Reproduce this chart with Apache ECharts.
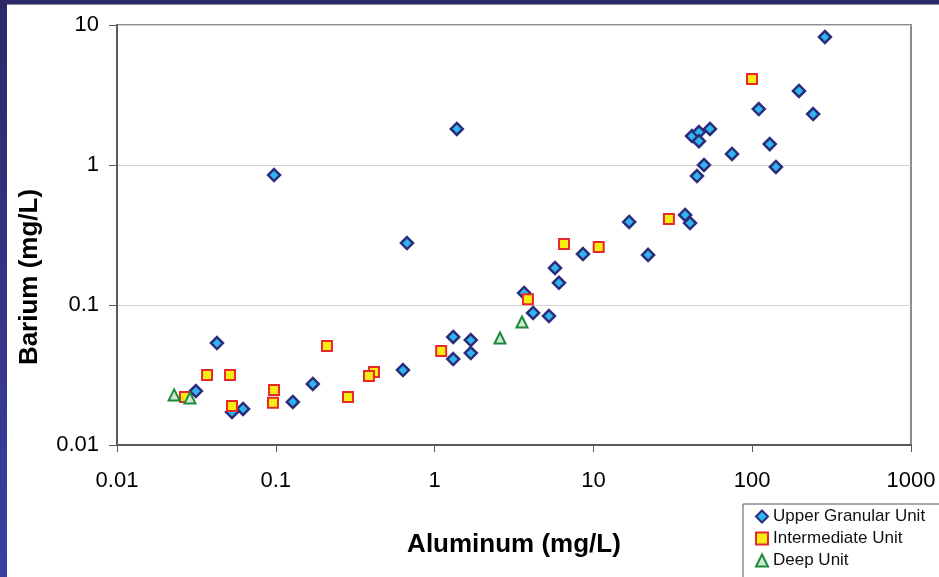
<!DOCTYPE html>
<html>
<head>
<meta charset="utf-8">
<title>Barium vs Aluminum</title>
<script src="https://cdn.jsdelivr.net/npm/echarts@6/dist/echarts.min.js"></script>
<style>
  html, body { margin: 0; padding: 0; background: #ffffff; }
  #chart { width: 939px; height: 577px; }
</style>
</head>
<body>
<div id="chart"></div>
<script>
// Aluminum (mg/L), Barium (mg/L) pairs per hydrostratigraphic unit
const upperGranular = [
  [0.0314, 0.0243], [0.053, 0.0172], [0.0622, 0.0181], [0.0426, 0.0535],
  [0.0975, 0.848], [0.128, 0.0203], [0.171, 0.0273], [0.632, 0.0343],
  [0.670, 0.277], [1.31, 0.0591], [1.31, 0.0411], [1.69, 0.0562],
  [1.69, 0.0454], [1.38, 1.81], [3.66, 0.122], [4.17, 0.0877],
  [5.25, 0.0834], [5.73, 0.184], [6.07, 0.144], [8.60, 0.231],
  [16.8, 0.392], [22.1, 0.228], [37.8, 0.440], [40.6, 0.385],
  [44.9, 0.834], [49.7, 1.00], [74.6, 1.20], [129, 1.41],
  [141, 0.968], [41.8, 1.61], [46.2, 1.72], [46.2, 1.48],
  [54.2, 1.81], [110, 2.51], [197, 3.38], [242, 2.31], [287, 8.21]
];
const intermediate = [
  [0.0268, 0.0220], [0.0369, 0.0316], [0.0515, 0.0316], [0.053, 0.0190],
  [0.0975, 0.0247], [0.096, 0.0200], [0.210, 0.0509], [0.285, 0.0220],
  [0.415, 0.0332], [0.386, 0.0311], [1.10, 0.0469], [3.87, 0.110],
  [6.53, 0.273], [10.8, 0.260], [29.9, 0.411], [99.7, 4.12]
];
const deep = [
  [0.0229, 0.0228], [0.0288, 0.0217], [2.58, 0.0581], [3.55, 0.0756]
];

const seriesNames = ['Upper Granular Unit', 'Intermediate Unit', 'Deep Unit'];
const xTicks = [0.01, 0.1, 1, 10, 100, 1000];
const yTicks = [0.01, 0.1, 1, 10];
const xTitle = 'Aluminum (mg/L)';
const yTitle = 'Barium (mg/L)';

const fmt = v => String(Number(v.toPrecision(6)));
const FONT = '"Liberation Sans", Arial, sans-serif';

const chart = echarts.init(document.getElementById('chart'), null, { renderer: 'canvas' });

chart.setOption({
  backgroundColor: '#ffffff',
  animation: false,
  graphic: [
    // slide frame: navy band on top and gradient band down the left edge
    { type: 'rect', shape: { x: 0, y: 0, width: 939, height: 4 },
      style: { fill: '#2c2a6a' }, z: 100 },
    { type: 'rect', shape: { x: 7, y: 4, width: 932, height: 1 },
      style: { fill: '#8a8a9a' }, z: 100 },
    { type: 'rect', shape: { x: 0, y: 0, width: 7, height: 577 },
      style: { fill: new echarts.graphic.LinearGradient(0, 0, 0, 1, [
        { offset: 0, color: '#2b2968' }, { offset: 1, color: '#3a40a2' }
      ]) }, z: 100 },
    // vertical axis title
    { type: 'text', x: 30, y: 277, rotation: Math.PI / 2, z: 50,
      style: { text: yTitle, font: 'bold 26px ' + FONT, fill: '#000',
        textAlign: 'center', textVerticalAlign: 'middle' } }
  ],
  grid: {
    left: 117, right: 28, top: 25, bottom: 132,
    show: true, borderColor: '#8c8c8c', borderWidth: 2, backgroundColor: '#fff'
  },
  legend: {
    orient: 'vertical', left: 743, top: 504, height: 120,
    padding: [4, 40, 20, 12],
    itemGap: 5, itemWidth: 12, itemHeight: 12,
    borderColor: '#555', borderWidth: 1,
    textStyle: { fontFamily: FONT, fontSize: 17, color: '#111' },
    data: seriesNames
  },
  xAxis: {
    type: 'log', logBase: 10, min: xTicks[0], max: xTicks[xTicks.length - 1],
    name: xTitle, nameLocation: 'middle', nameGap: 87,
    nameTextStyle: { fontFamily: FONT, fontSize: 26, fontWeight: 'bold', color: '#000' },
    axisLine: { show: true, lineStyle: { color: '#5a5a5a', width: 2 } },
    axisTick: { show: true, length: 7, lineStyle: { color: '#5a5a5a', width: 1 } },
    minorTick: { show: false },
    splitLine: { show: false },
    axisLabel: { formatter: fmt, margin: 25, fontFamily: FONT, fontSize: 22, color: '#000' }
  },
  yAxis: {
    type: 'log', logBase: 10, min: yTicks[0], max: yTicks[yTicks.length - 1],
    axisLine: { show: true, lineStyle: { color: '#5a5a5a', width: 2 } },
    axisTick: { show: true, length: 8, lineStyle: { color: '#5a5a5a', width: 1 } },
    minorTick: { show: false },
    splitLine: { show: true, lineStyle: { color: '#d0d0d0', width: 1 } },
    axisLabel: { formatter: fmt, margin: 18, fontFamily: FONT, fontSize: 22, color: '#000' }
  },
  series: [
    {
      name: seriesNames[0], type: 'scatter', data: upperGranular,
      symbol: 'diamond', symbolSize: 12, z: 3,
      itemStyle: { color: '#2fb6ec', borderColor: '#2b2d7c', borderWidth: 2.5, opacity: 1 }
    },
    {
      name: seriesNames[1], type: 'scatter', data: intermediate,
      symbol: 'rect', symbolSize: 10, z: 4,
      itemStyle: { color: '#f7ec14', borderColor: '#e62a2a', borderWidth: 2, opacity: 1 }
    },
    {
      name: seriesNames[2], type: 'scatter', data: deep,
      symbol: 'triangle', symbolSize: 11, z: 5,
      itemStyle: { color: '#cfe7cf', borderColor: '#1b8a3e', borderWidth: 2, opacity: 1 }
    }
  ]
});
</script>
</body>
</html>
